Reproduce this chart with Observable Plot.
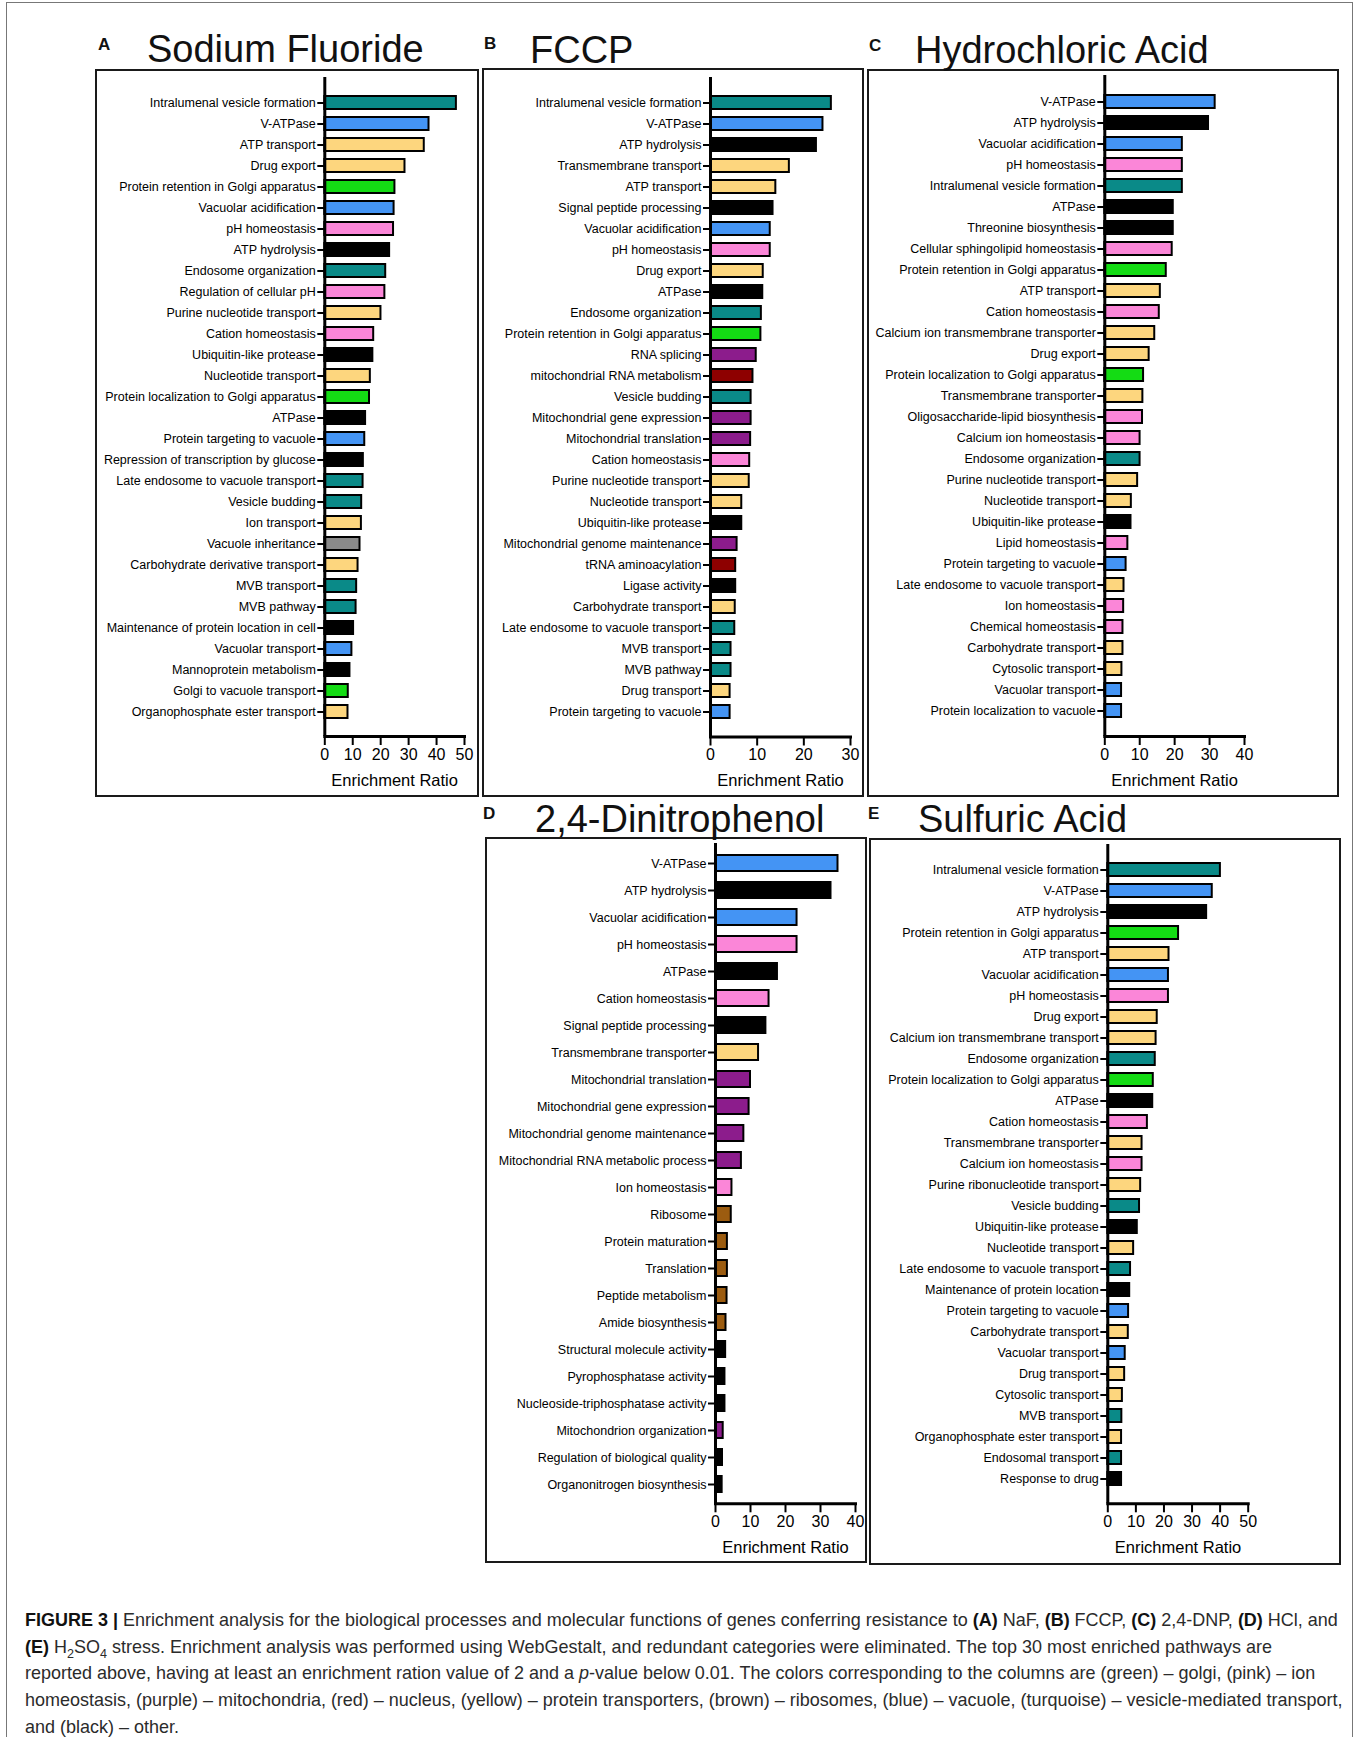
<!DOCTYPE html>
<html>
<head>
<meta charset="utf-8">
<script src="https://cdn.jsdelivr.net/npm/d3@7"></script>
<script src="https://cdn.jsdelivr.net/npm/@observablehq/plot@0.6"></script>
<style>
  html, body { margin: 0; padding: 0; background: #fff; }
  #page { position: relative; width: 1358px; height: 1737px; overflow: hidden; font-family: "Liberation Sans", Arial, Helvetica, sans-serif; color: #111; }
  .box { position: absolute; border: 2px solid #1a1a1a; box-sizing: border-box; }
  .title { position: absolute; font-size: 38px; line-height: 38px; white-space: nowrap; color: #111; }
  .letter { position: absolute; font-size: 17px; line-height: 17px; font-weight: bold; color: #111; }
  .plot { position: absolute; }
  .plot svg { overflow: visible; }
  #caption { position: absolute; left: 25px; top: 1607px; color: #2b2b2b; line-height: 26.7px; }
  #caption div { white-space: nowrap; }
  #caption b { color: #111; }
  #outer { position: absolute; left: 6px; top: 2px; width: 1347px; height: 1760px; border: 1.5px solid #777; box-sizing: border-box; }
</style>
</head>
<body>
<div id="page">
  <div id="outer"></div>
</div>
<script>
// ---------- categories (caption colour key) ----------
const categories = ["golgi", "ion homeostasis", "mitochondria", "nucleus", "protein transporters", "ribosomes", "vacuole", "vesicle-mediated transport", "other", "unassigned"];
const categoryColors = ["#14dc14", "#fb86d8", "#8c1c8c", "#8e0000", "#fdd67e", "#9c5c10", "#4494f4", "#0a8a88", "#000000", "#8a8a8a"];

// ---------- Panel A: Sodium Fluoride ----------
const naf_labels = ["Intralumenal vesicle formation", "V-ATPase", "ATP transport", "Drug export", "Protein retention in Golgi apparatus", "Vacuolar acidification", "pH homeostasis", "ATP hydrolysis", "Endosome organization", "Regulation of cellular pH", "Purine nucleotide transport", "Cation homeostasis", "Ubiquitin-like protease", "Nucleotide transport", "Protein localization to Golgi apparatus", "ATPase", "Protein targeting to vacuole", "Repression of transcription by glucose", "Late endosome to vacuole transport", "Vesicle budding", "Ion transport", "Vacuole inheritance", "Carbohydrate derivative transport", "MVB transport", "MVB pathway", "Maintenance of protein location in cell", "Vacuolar transport", "Mannoprotein metabolism", "Golgi to vacuole transport", "Organophosphate ester transport"];
const naf_values = [47.1, 37.3, 35.6, 28.7, 25.1, 24.8, 24.6, 23.2, 21.8, 21.5, 20.1, 17.5, 17.2, 16.3, 16.0, 14.6, 14.3, 13.8, 13.7, 13.2, 13.1, 12.6, 11.9, 11.4, 11.2, 10.3, 9.7, 9.0, 8.4, 8.3];
const naf_groups = ["vesicle-mediated transport", "vacuole", "protein transporters", "protein transporters", "golgi", "vacuole", "ion homeostasis", "other", "vesicle-mediated transport", "ion homeostasis", "protein transporters", "ion homeostasis", "other", "protein transporters", "golgi", "other", "vacuole", "other", "vesicle-mediated transport", "vesicle-mediated transport", "protein transporters", "unassigned", "protein transporters", "vesicle-mediated transport", "vesicle-mediated transport", "other", "vacuole", "other", "golgi", "protein transporters"];
const naf_ticks = [0, 10, 20, 30, 40, 50];

// ---------- Panel B: FCCP ----------
const fccp_labels = ["Intralumenal vesicle formation", "V-ATPase", "ATP hydrolysis", "Transmembrane transport", "ATP transport", "Signal peptide processing", "Vacuolar acidification", "pH homeostasis", "Drug export", "ATPase", "Endosome organization", "Protein retention in Golgi apparatus", "RNA splicing", "mitochondrial RNA metabolism", "Vesicle budding", "Mitochondrial gene expression", "Mitochondrial translation", "Cation homeostasis", "Purine nucleotide transport", "Nucleotide transport", "Ubiquitin-like protease", "Mitochondrial genome maintenance", "tRNA aminoacylation", "Ligase activity", "Carbohydrate transport", "Late endosome to vacuole transport", "MVB transport", "MVB pathway", "Drug transport", "Protein targeting to vacuole"];
const fccp_values = [25.9, 24.1, 22.7, 16.9, 14.0, 13.4, 12.8, 12.8, 11.3, 11.2, 10.9, 10.8, 9.8, 9.1, 8.7, 8.7, 8.6, 8.4, 8.3, 6.7, 6.7, 5.7, 5.4, 5.4, 5.3, 5.2, 4.4, 4.4, 4.2, 4.2];
const fccp_groups = ["vesicle-mediated transport", "vacuole", "other", "protein transporters", "protein transporters", "other", "vacuole", "ion homeostasis", "protein transporters", "other", "vesicle-mediated transport", "golgi", "mitochondria", "nucleus", "vesicle-mediated transport", "mitochondria", "mitochondria", "ion homeostasis", "protein transporters", "protein transporters", "other", "mitochondria", "nucleus", "other", "protein transporters", "vesicle-mediated transport", "vesicle-mediated transport", "vesicle-mediated transport", "protein transporters", "vacuole"];
const fccp_ticks = [0, 10, 20, 30];

// ---------- Panel C: Hydrochloric Acid ----------
const hcl_labels = ["V-ATPase", "ATP hydrolysis", "Vacuolar acidification", "pH homeostasis", "Intralumenal vesicle formation", "ATPase", "Threonine biosynthesis", "Cellular sphingolipid homeostasis", "Protein retention in Golgi apparatus", "ATP transport", "Cation homeostasis", "Calcium ion transmembrane transporter", "Drug export", "Protein localization to Golgi apparatus", "Transmembrane transporter", "Oligosaccharide-lipid biosynthesis", "Calcium ion homeostasis", "Endosome organization", "Purine nucleotide transport", "Nucleotide transport", "Ubiquitin-like protease", "Lipid homeostasis", "Protein targeting to vacuole", "Late endosome to vacuole transport", "Ion homeostasis", "Chemical homeostasis", "Carbohydrate transport", "Cytosolic transport", "Vacuolar transport", "Protein localization to vacuole"];
const hcl_values = [31.6, 29.7, 22.2, 22.2, 22.2, 19.6, 19.6, 19.3, 17.6, 15.9, 15.6, 14.3, 12.7, 11.1, 10.9, 10.8, 10.1, 10.1, 9.4, 7.6, 7.5, 6.6, 6.1, 5.5, 5.4, 5.2, 5.2, 4.9, 4.8, 4.8];
const hcl_groups = ["vacuole", "other", "vacuole", "ion homeostasis", "vesicle-mediated transport", "other", "other", "ion homeostasis", "golgi", "protein transporters", "ion homeostasis", "protein transporters", "protein transporters", "golgi", "protein transporters", "ion homeostasis", "ion homeostasis", "vesicle-mediated transport", "protein transporters", "protein transporters", "other", "ion homeostasis", "vacuole", "protein transporters", "ion homeostasis", "ion homeostasis", "protein transporters", "protein transporters", "vacuole", "vacuole"];
const hcl_ticks = [0, 10, 20, 30, 40];

// ---------- Panel D: 2,4-Dinitrophenol ----------
const dnp_labels = ["V-ATPase", "ATP hydrolysis", "Vacuolar acidification", "pH homeostasis", "ATPase", "Cation homeostasis", "Signal peptide processing", "Transmembrane transporter", "Mitochondrial translation", "Mitochondrial gene expression", "Mitochondrial genome maintenance", "Mitochondrial RNA metabolic process", "Ion homeostasis", "Ribosome", "Protein maturation", "Translation", "Peptide metabolism", "Amide biosynthesis", "Structural molecule activity", "Pyrophosphatase activity", "Nucleoside-triphosphatase activity", "Mitochondrion organization", "Regulation of biological quality", "Organonitrogen biosynthesis"];
const dnp_values = [35.0, 33.0, 23.3, 23.3, 17.7, 15.3, 14.4, 12.3, 10.0, 9.6, 8.1, 7.4, 4.7, 4.5, 3.4, 3.4, 3.3, 3.0, 2.9, 2.7, 2.7, 2.2, 2.0, 1.9];
const dnp_groups = ["vacuole", "other", "vacuole", "ion homeostasis", "other", "ion homeostasis", "other", "protein transporters", "mitochondria", "mitochondria", "mitochondria", "mitochondria", "ion homeostasis", "ribosomes", "ribosomes", "ribosomes", "ribosomes", "ribosomes", "other", "other", "other", "mitochondria", "other", "other"];
const dnp_ticks = [0, 10, 20, 30, 40];

// ---------- Panel E: Sulfuric Acid ----------
const h2so4_labels = ["Intralumenal vesicle formation", "V-ATPase", "ATP hydrolysis", "Protein retention in Golgi apparatus", "ATP transport", "Vacuolar acidification", "pH homeostasis", "Drug export", "Calcium ion transmembrane transport", "Endosome organization", "Protein localization to Golgi apparatus", "ATPase", "Cation homeostasis", "Transmembrane transporter", "Calcium ion homeostasis", "Purine ribonucleotide transport", "Vesicle budding", "Ubiquitin-like protease", "Nucleotide transport", "Late endosome to vacuole transport", "Maintenance of protein location", "Protein targeting to vacuole", "Carbohydrate transport", "Vacuolar transport", "Drug transport", "Cytosolic transport", "MVB transport", "Organophosphate ester transport", "Endosomal transport", "Response to drug"];
const h2so4_values = [40.1, 37.2, 35.2, 25.2, 21.8, 21.6, 21.6, 17.6, 17.2, 16.9, 16.2, 16.0, 14.1, 12.2, 12.2, 11.7, 11.3, 10.5, 9.2, 8.1, 7.8, 7.4, 7.3, 6.2, 6.0, 5.2, 5.0, 4.9, 4.9, 4.9];
const h2so4_groups = ["vesicle-mediated transport", "vacuole", "other", "golgi", "protein transporters", "vacuole", "ion homeostasis", "protein transporters", "protein transporters", "vesicle-mediated transport", "golgi", "other", "ion homeostasis", "protein transporters", "ion homeostasis", "protein transporters", "vesicle-mediated transport", "other", "protein transporters", "vesicle-mediated transport", "other", "vacuole", "protein transporters", "vacuole", "protein transporters", "protein transporters", "vesicle-mediated transport", "protein transporters", "vesicle-mediated transport", "other"];
const h2so4_ticks = [0, 10, 20, 30, 40, 50];

const axisTitle = "Enrichment Ratio";

// ---------- layout (page pixels) ----------
const panels = [
  {letter: "A", title: "Sodium Fluoride", labels: naf_labels, values: naf_values, groups: naf_groups, ticks: naf_ticks,
   box: [95, 69, 479, 797], x0: 324.3, x1: 464, yTop: 77, yBot: 736, letterPos: [98, 50], titlePos: [147, 62]},
  {letter: "B", title: "FCCP", labels: fccp_labels, values: fccp_values, groups: fccp_groups, ticks: fccp_ticks,
   box: [482, 68, 864, 797], x0: 710, x1: 850, yTop: 77, yBot: 736.5, letterPos: [484, 49], titlePos: [530, 63]},
  {letter: "C", title: "Hydrochloric Acid", labels: hcl_labels, values: hcl_values, groups: hcl_groups, ticks: hcl_ticks,
   box: [867, 69, 1339, 797], x0: 1104.3, x1: 1244, yTop: 75, yBot: 736, letterPos: [869, 51], titlePos: [915, 63]},
  {letter: "D", title: "2,4-Dinitrophenol", labels: dnp_labels, values: dnp_values, groups: dnp_groups, ticks: dnp_ticks,
   box: [485, 837, 867, 1563], x0: 715, x1: 855, yTop: 843, yBot: 1503.3, letterPos: [483, 819], titlePos: [535, 832]},
  {letter: "E", title: "Sulfuric Acid", labels: h2so4_labels, values: h2so4_values, groups: h2so4_groups, ticks: h2so4_ticks,
   box: [869, 838, 1341, 1565], x0: 1107.3, x1: 1247.7, yTop: 844, yBot: 1503.3, letterPos: [868, 819], titlePos: [918, 832]}
];

const page = document.getElementById("page");
const FONT = '"Liberation Sans", Arial, Helvetica, sans-serif';

function el(cls, text, left, top) {
  const d = document.createElement("div");
  d.className = cls;
  if (text != null) d.textContent = text;
  d.style.left = left + "px";
  d.style.top = top + "px";
  page.appendChild(d);
  return d;
}

for (const p of panels) {
  const [bx0, by0, bx1, by1] = p.box;
  const b = el("box", null, bx0, by0);
  b.style.width = (bx1 - bx0) + "px";
  b.style.height = (by1 - by0) + "px";
  el("letter", p.letter, p.letterPos[0], p.letterPos[1] - 0.85 * 17);
  el("title", p.title, p.titlePos[0], p.titlePos[1] - 0.85 * 38);

  const data = p.labels.map((label, i) => ({label, value: p.values[i], group: p.groups[i]}));
  const n = p.labels.length;
  const W = bx1 - bx0, H = by1 - by0;
  const xmax = p.ticks[p.ticks.length - 1];
  const chart = Plot.plot({
    width: W,
    height: H,
    marginLeft: p.x0 - bx0,
    marginRight: bx1 - p.x1,
    marginTop: p.yTop - by0,
    marginBottom: by1 - p.yBot,
    style: {background: "transparent", overflow: "visible", fontFamily: FONT, color: "#000"},
    x: {domain: [0, xmax]},
    y: {domain: p.labels, paddingInner: 0.4, paddingOuter: n === 24 ? 0.385 : 0.37},
    color: {domain: categories, range: categoryColors},
    marks: [
      Plot.barX(data, {x: "value", y: "label", fill: "group", stroke: "#000", strokeWidth: 2}),
      Plot.ruleX([0], {stroke: "#000", strokeWidth: 3}),
      Plot.frame({anchor: "bottom", stroke: "#000", strokeWidth: 3}),
      Plot.axisY({tickSize: 7, tickPadding: 2, fontSize: 12.5, label: null, strokeWidth: 2, stroke: "#000", fill: "#000"}),
      Plot.axisX({ticks: p.ticks, tickFormat: d3.format("d"), tickSize: 9, tickPadding: 3, fontSize: 16, label: null, strokeWidth: 2, stroke: "#000", fill: "#000"}),
      Plot.text([axisTitle], {frameAnchor: "bottom", dy: 44, lineAnchor: "middle", fontSize: 16.5, fill: "#000"})
    ]
  });
  const holder = el("plot", null, bx0, by0);
  holder.appendChild(chart);
}

// ---------- caption ----------
const captionLines = [
  '<b>FIGURE 3 |</b> Enrichment analysis for the biological processes and molecular functions of genes conferring resistance to <b>(A)</b> NaF, <b>(B)</b> FCCP, <b>(C)</b> 2,4-DNP, <b>(D)</b> HCl, and',
  '<b>(E)</b> H<sub>2</sub>SO<sub>4</sub> stress. Enrichment analysis was performed using WebGestalt, and redundant categories were eliminated. The top 30 most enriched pathways are',
  'reported above, having at least an enrichment ration value of 2 and a <i>p</i>-value below 0.01. The colors corresponding to the columns are (green) – golgi, (pink) – ion',
  'homeostasis, (purple) – mitochondria, (red) – nucleus, (yellow) – protein transporters, (brown) – ribosomes, (blue) – vacuole, (turquoise) – vesicle-mediated transport,',
  'and (black) – other.'
];
const cap = el("", null, 25, 1607);
cap.id = "caption";
cap.style.fontSize = "16px";
cap.innerHTML = captionLines.map(l => `<div><span>${l}</span></div>`).join("");
cap.querySelectorAll("sub").forEach(s => { s.style.fontSize = "0.7em"; s.style.lineHeight = "0"; });
const w1 = cap.querySelector("span").getBoundingClientRect().width;
cap.style.fontSize = (16 * 1313 / w1).toFixed(2) + "px";
</script>
</body>
</html>
